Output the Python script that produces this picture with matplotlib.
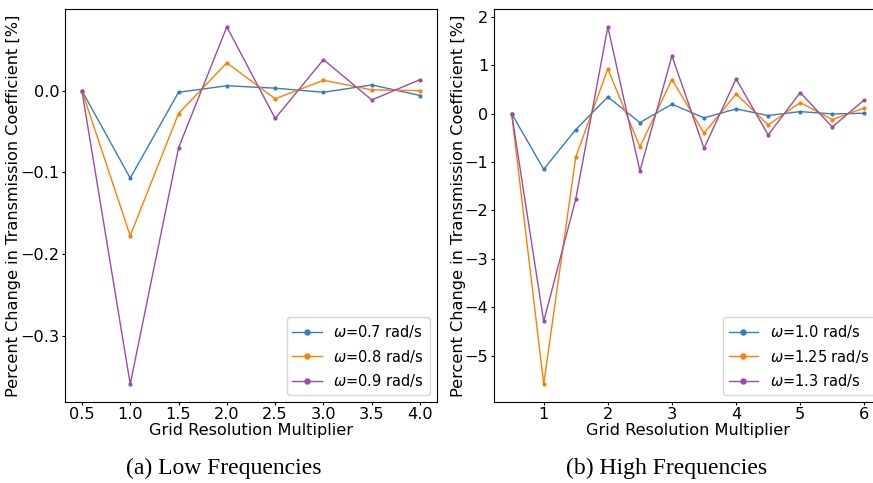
import numpy as np
import matplotlib
matplotlib.use("Agg")
import matplotlib.pyplot as plt

# low frequency runs
x_low = [0.5, 1.0, 1.5, 2.0, 2.5, 3.0, 3.5, 4.0]
w07 = [0.0, -0.107, -0.002, 0.006, 0.003, -0.002, 0.007, -0.006]
w08 = [0.0, -0.1775, -0.028, 0.034, -0.010, 0.0126, 0.001, 0.0]
w09 = [0.0, -0.359, -0.070, 0.078, -0.034, 0.038, -0.0114, 0.0135]

# high frequency runs
x_high = [0.5, 1.0, 1.5, 2.0, 2.5, 3.0, 3.5, 4.0, 4.5, 5.0, 5.5, 6.0]
w10 = [0.0, -1.15, -0.33, 0.344, -0.186, 0.193, -0.089, 0.097, -0.041, 0.041, -0.007, 0.007]
w125 = [0.0, -5.585, -0.895, 0.923, -0.688, 0.702, -0.407, 0.407, -0.234, 0.227, -0.124, 0.117]
w13 = [0.0, -4.29, -1.763, 1.79, -1.185, 1.19, -0.716, 0.716, -0.441, 0.434, -0.276, 0.283]

labels_low = [r'$\omega$=0.7 rad/s', r'$\omega$=0.8 rad/s', r'$\omega$=0.9 rad/s']
labels_high = [r'$\omega$=1.0 rad/s', r'$\omega$=1.25 rad/s', r'$\omega$=1.3 rad/s']
colors = ['#377eb8', '#ff7f00', '#984ea3']

plt.rcParams['font.family'] = 'DejaVu Sans'
plt.rcParams['mathtext.fontset'] = 'dejavusans'
plt.rcParams['font.size'] = 11.6
plt.rcParams['xtick.major.size'] = 2
plt.rcParams['ytick.major.size'] = 2
plt.rcParams['xtick.major.pad'] = 1.5
plt.rcParams['ytick.major.pad'] = 2

fig = plt.figure(figsize=(8.73, 4.83), dpi=100)
ax1 = fig.add_axes([65/873, 81/483, 372/873, 393/483])
# right panel runs past the image edge, as in the original crop
ax2 = fig.add_axes([494/873, 81/483, 388/873, 393/483])

for ys, lab, c in zip([w07, w08, w09], labels_low, colors):
    ax1.plot(x_low, ys, '.-', color=c, lw=1, ms=4, label=lab)
for ys, lab, c in zip([w10, w125, w13], labels_high, colors):
    ax2.plot(x_high, ys, '.-', color=c, lw=1, ms=4, label=lab)

ax1.set_xticks(x_low)
ax1.set_yticks([0.0, -0.1, -0.2, -0.3])
ax2.set_xticks([1, 2, 3, 4, 5, 6])

for ax in (ax1, ax2):
    ax.set_xlabel('Grid Resolution Multiplier', labelpad=1)
    ax.set_ylabel('Percent Change in Transmission Coefficient [%]')
    ax.legend(loc='lower right', markerscale=1.8, fontsize=10.5)

ax1.yaxis.set_label_coords(-0.118, 0.5)
ax2.yaxis.set_label_coords(-0.072, 0.5)

# subfigure captions
fig.text(224/873, 1 - 468/483, '(a) Low Frequencies', family='Liberation Serif',
         fontsize=17, ha='center', va='center')
fig.text(667/873, 1 - 468/483, '(b) High Frequencies', family='Liberation Serif',
         fontsize=17, ha='center', va='center')

plt.savefig('out.png', dpi=100)
